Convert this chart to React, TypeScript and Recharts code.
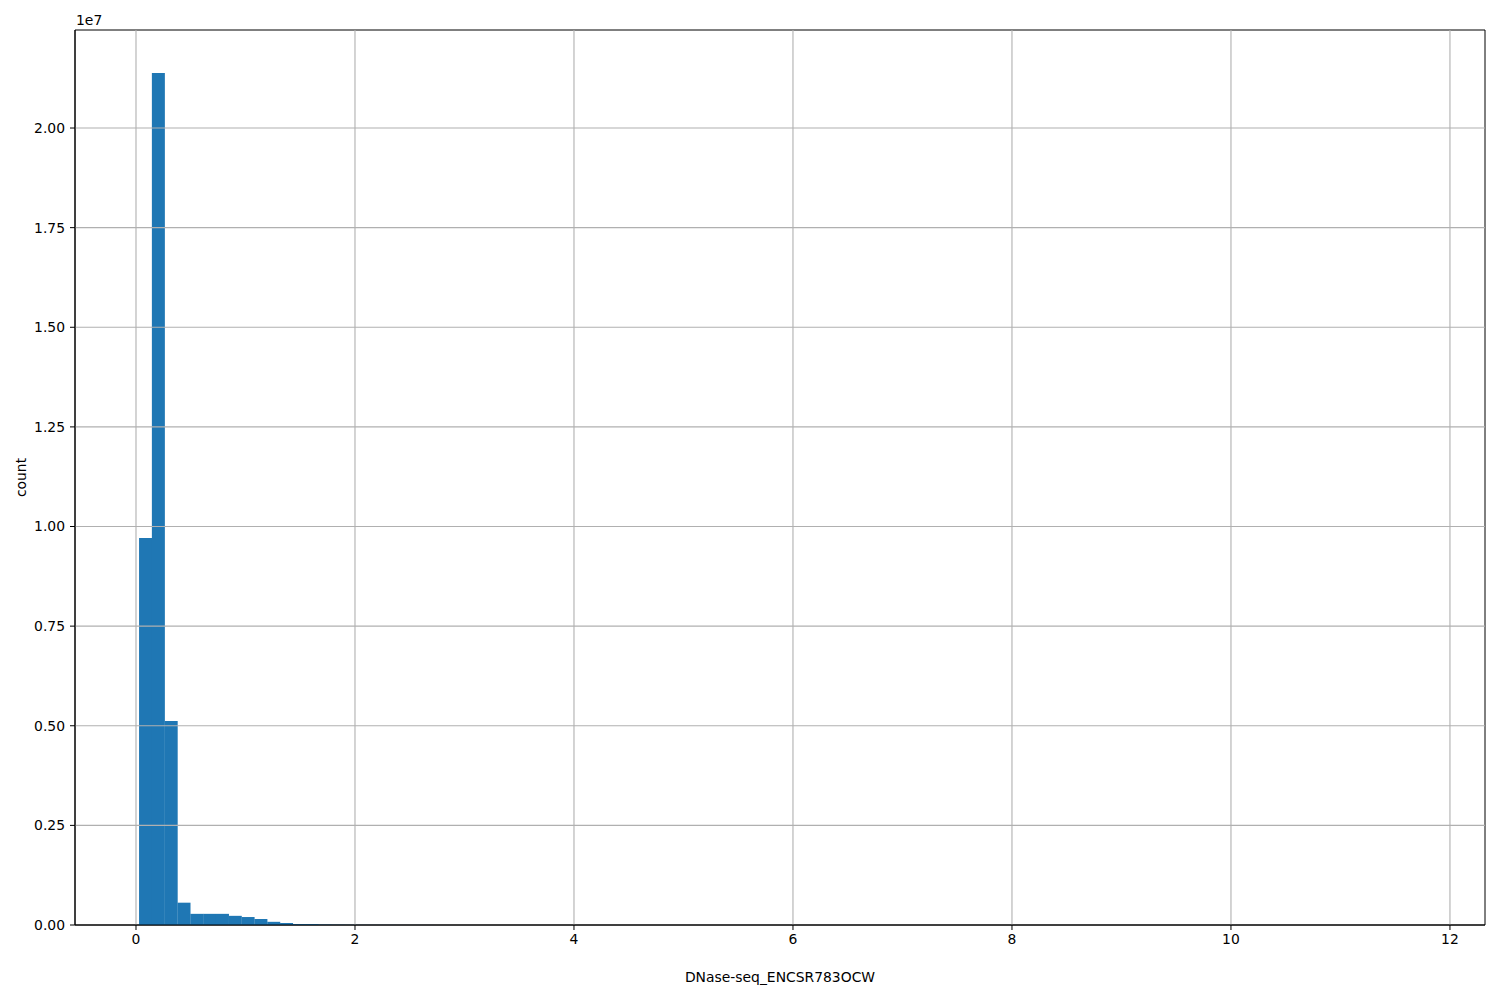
import React from 'react';
import { BarChart, Bar, XAxis, YAxis, ReferenceLine, ReferenceArea, Label } from 'recharts';

// Histogram: 100 equal bins over [histMin, histMax]
const histMin = 0.028;
const histMax = 11.734;
const binCount = 100;

const counts: number[] = [
  9710000, 21380000, 5120000, 560000, 280000, 280000, 280000, 230000, 200000, 150000,
  80000, 50000, 25000, 25000, 12000, 8000, 5500, 4000, 3000, 2200,
  1600, 1200, 900, 700, 550, 430, 340, 270, 220, 180,
  150, 120, 100, 85, 70, 60, 50, 42, 36, 30,
  26, 22, 19, 16, 14, 12, 10, 9, 8, 7,
  6, 5, 5, 4, 4, 3, 3, 3, 2, 2,
  2, 2, 1, 1, 1, 1, 1, 1, 0, 1,
  1, 0, 1, 0, 0, 1, 0, 0, 1, 0,
  0, 0, 1, 0, 0, 0, 0, 1, 0, 0,
  0, 0, 0, 0, 1, 0, 0, 0, 0, 1,
];

const xTicks = [0, 2, 4, 6, 8, 10, 12];
const yTicks = [0, 2500000, 5000000, 7500000, 10000000, 12500000, 15000000, 17500000, 20000000];
const xDomain: [number, number] = [-0.557, 12.32];
const yDomain: [number, number] = [0, 22460000];

const binWidth = (histMax - histMin) / binCount;
const data = counts.map((c, i) => ({ x: histMin + binWidth * (i + 0.5), count: c }));

const font = 'DejaVu Sans, sans-serif';
const grid = '#b0b0b0';

export default function App() {
  return (
    <div style={{ position: 'absolute', left: 0, top: 0, width: 1500, height: 1000, background: '#fff' }}>
      <BarChart
        width={1500}
        height={1000}
        data={data}
        margin={{ top: 30, right: 15, bottom: 0, left: 0 }}
        barCategoryGap={0}
        barGap={0}
      >
        <XAxis
          dataKey="x"
          type="number"
          domain={xDomain}
          allowDataOverflow
          ticks={xTicks}
          interval={0}
          height={75}
          tickSize={5}
          tickMargin={4}
          stroke="#000"
          tick={{ fill: '#000', fontSize: 13.9, fontFamily: font }}
          tickLine={{ stroke: '#000' }}
          axisLine={{ stroke: '#000' }}
        >
          <Label
            content={(props: any) => {
              const vb = props.viewBox || {};
              return (
                <text
                  x={vb.x + vb.width / 2}
                  y={vb.y + 57}
                  textAnchor="middle"
                  fontSize={13.9}
                  fontFamily={font}
                  fill="#000"
                >
                  DNase-seq_ENCSR783OCW
                </text>
              );
            }}
          />
        </XAxis>
        <YAxis
          type="number"
          domain={yDomain}
          allowDataOverflow
          ticks={yTicks}
          interval={0}
          width={75}
          tickSize={5}
          tickMargin={5}
          stroke="#000"
          tickFormatter={(v: number) => (v / 1e7).toFixed(2)}
          tick={{ fill: '#000', fontSize: 13.9, fontFamily: font }}
          tickLine={{ stroke: '#000' }}
          axisLine={{ stroke: '#000' }}
        >
          <Label
            content={(props: any) => {
              const vb = props.viewBox || {};
              const cy = vb.y + vb.height / 2;
              return (
                <g>
                  <text
                    x={26}
                    y={cy}
                    transform={`rotate(-90, 26, ${cy})`}
                    textAnchor="middle"
                    fontSize={13.9}
                    fontFamily={font}
                    fill="#000"
                  >
                    count
                  </text>
                  <text x={76} y={vb.y - 5} textAnchor="start" fontSize={13.9} fontFamily={font} fill="#000">
                    1e7
                  </text>
                </g>
              );
            }}
          />
        </YAxis>
        <Bar dataKey="count" fill="#1f77b4" isAnimationActive={false} />
        {xTicks.map((t) => (
          <ReferenceLine key={'gx' + t} x={t} stroke={grid} strokeWidth={1.1} />
        ))}
        {yTicks.filter((t) => t > 0).map((t) => (
          <ReferenceLine key={'gy' + t} y={t} stroke={grid} strokeWidth={1.1} />
        ))}
        <ReferenceArea
          x1={xDomain[0]}
          x2={xDomain[1]}
          y1={yDomain[0]}
          y2={yDomain[1]}
          fill="none"
          stroke="#000"
          strokeWidth={1}
        />
      </BarChart>
    </div>
  );
}
